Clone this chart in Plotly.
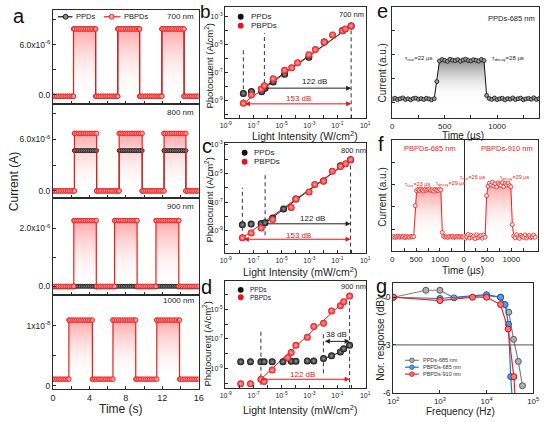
import numpy as np
import plotly.graph_objects as go

W, H = 546, 422
FONT = "Arial, 'Liberation Sans', Helvetica, sans-serif"

# ---------------- data ----------------
# panel a: square-wave photoresponse (edges in s, levels in A)
a_labels = ["700 nm", "800 nm", "900 nm", "1000 nm"]
a_on = [[2.26, 7.12, 11.96], [2.36, 7.27, 12.20], [2.29, 6.77, 11.31], [1.75, 6.59, 11.40]]
a_off = [[4.69, 9.52, 14.40], [4.80, 9.80, 14.60], [4.76, 9.24, 13.82], [4.33, 9.09, 13.90]]
a_pbpd_hi = [7.88e-6, 6.69e-6, 2.26e-6, 1.09e-8]
a_pbpd_lo = [-0.15e-6, 0.0, 0.0, 0.11e-8]
a_ppd_hi = [7.88e-6, 4.69e-6, 0.0, None]
a_ppd_lo = [-0.15e-6, 0.0, -0.02e-6, None]
a_yrange = [[-1.02e-6, 10.15e-6], [-0.84e-6, 10.16e-6], [-0.29e-6, 3.03e-6], [-0.06e-8, 1.51e-8]]
a_ytickvals = [[0, 3e-6, 6e-6, 9e-6], [0, 3e-6, 6e-6, 9e-6], [0, 1e-6, 2e-6, 3e-6], [0, 0.5e-8, 1e-8, 1.5e-8]]
a_yticktext = [["0.0", "", "6.0x10<sup>-6</sup>", ""], ["0.0", "", "6.0x10<sup>-6</sup>", ""],
               ["0.0", "", "2.0x10<sup>-6</sup>", ""], ["0", "", "1x10<sup>-8</sup>", ""]]
a_sample_times = np.round(np.arange(0, 16.0001, 0.2), 3)

# panels b-d: log10(light intensity), log10(photocurrent)
b_x_ppd = [-7.74, -7.16, -6.42, -6.18, -5.60, -4.78, -3.04, -1.94, -0.64, -0.01]
b_y_ppd = [-8.51, -8.37, -8.39, -8.13, -7.68, -7.13, -5.91, -4.82, -4.01, -3.66]
b_x_pbpd = [-7.74, -7.16, -6.46, -6.23, -5.60, -4.78, -4.27, -3.85, -3.04, -2.57, -1.94, -1.34, -0.64, -0.43, -0.01]
b_y_pbpd = [-9.22, -8.62, -8.20, -7.96, -7.45, -6.85, -6.67, -6.31, -5.72, -5.36, -4.82, -4.30, -4.01, -3.87, -3.66]
b_fit_ppd = ([-6.23, -0.01], [-8.05, -3.66])
b_fit_pbpd = ([-7.74, -0.01], [-9.22, -3.66])
b_dash = [(-7.74, -9.22, -5.25), (-6.23, -8.27, -4.18), (-0.01, -10.3, -3.66)]

c_x_ppd = [-7.81, -7.18, -6.46, -6.18, -5.64, -4.85, -3.97, -1.99, -0.78, -0.05]
c_y_ppd = [-8.59, -8.54, -8.50, -8.45, -8.12, -7.48, -6.79, -5.53, -4.45, -4.03]
c_x_pbpd = [-7.81, -7.18, -6.46, -5.64, -4.31, -3.97, -3.03, -2.62, -1.99, -1.36, -0.78, -0.40, -0.05]
c_y_pbpd = [-9.50, -9.16, -8.81, -8.22, -7.37, -6.79, -6.29, -5.76, -5.53, -4.84, -4.50, -4.31, -4.03]
c_fit_ppd = ([-6.18, -0.05], [-8.45, -4.03])
c_fit_pbpd = ([-7.81, -0.05], [-9.50, -4.03])
c_dash = [(-7.81, -9.50, -5.99), (-6.18, -9.32, -4.95), (-0.05, -10.6, -4.03)]

d_x_ppd = [-7.93, -7.23, -6.48, -6.25, -5.67, -4.90, -4.31, -3.97, -3.15, -2.69, -1.99, -1.41, -0.78, -0.54, -0.12]
d_y_ppd = [-8.55, -8.55, -8.55, -8.55, -8.55, -8.55, -8.51, -8.51, -8.49, -8.49, -8.33, -8.15, -7.89, -7.67, -7.44]
d_x_pbpd = [-7.93, -7.23, -6.48, -6.25, -5.67, -4.55, -4.31, -3.97, -3.15, -2.69, -1.99, -1.41, -0.78, -0.54, -0.12]
d_y_pbpd = [-10.04, -10.04, -9.73, -9.89, -9.11, -8.27, -7.93, -7.44, -6.89, -6.17, -5.95, -5.11, -4.77, -4.49, -4.11]
d_fit_ppd = ([-1.99, -1.41, -0.78, -0.54, -0.12], [-8.33, -8.15, -7.89, -7.67, -7.44])
d_fit_pbpd = ([-6.48, -0.12], [-9.73, -4.11])
d_dash = [(-6.48, -10.1, -6.33), (-2.0, -9.33, -6.55), (-0.12, -10.4, -4.11)]

# panel e: PPDs-685 nm transient (time in us, a.u.)
e_t = list(range(0, 1401, 25))
e_y = [0.172, 0.180, 0.168, 0.176, 0.183, 0.170, 0.175, 0.166, 0.178, 0.181, 0.171, 0.177, 0.169, 0.180, 0.174, 0.167, 0.176,
       0.33,
       0.515, 0.528, 0.520, 0.512, 0.530, 0.522, 0.518, 0.527, 0.513, 0.524, 0.531, 0.519, 0.516, 0.526, 0.521, 0.514, 0.529, 0.518,
       0.205,
       0.178, 0.170, 0.182, 0.168, 0.175, 0.180, 0.166, 0.177, 0.172, 0.183, 0.169, 0.176, 0.181, 0.167, 0.174, 0.179, 0.171, 0.184, 0.170, 0.176]
e_base, e_top = 0.174, 0.52

# panel f: PBPDs transients
f_t = list(range(0, 1501, 30))
f_y685 = [0.128, 0.134, 0.125, 0.131, 0.137, 0.126, 0.133, 0.129, 0.136, 0.124, 0.132, 0.130, 0.127, 0.135, 0.129, 0.133,
          0.41,
          0.545, 0.556, 0.548, 0.560, 0.551, 0.543, 0.558, 0.549, 0.554, 0.562, 0.547, 0.553, 0.541, 0.557, 0.550, 0.546, 0.559, 0.552,
          0.17,
          0.135, 0.128, 0.131, 0.126, 0.134, 0.130, 0.137, 0.125, 0.132, 0.129, 0.136, 0.127, 0.133, 0.130, 0.128]
f_y910 = [0.140, 0.118, 0.132, 0.152, 0.121, 0.145, 0.127, 0.138, 0.115, 0.149, 0.124, 0.136, 0.142, 0.119, 0.147, 0.128,
          0.50,
          0.585, 0.612, 0.596, 0.621, 0.588, 0.607, 0.579, 0.615, 0.601, 0.592, 0.618, 0.583, 0.609, 0.597, 0.614, 0.590,
          0.58, 0.24,
          0.138, 0.122, 0.150, 0.129, 0.117, 0.144, 0.133, 0.126, 0.148, 0.120, 0.137, 0.143, 0.124, 0.131, 0.146, 0.127]

# panel g: frequency response
g_f_ppd = [100, 500, 1000, 2000, 10000, 20000, 30000, 38000, 48000, 59000]
g_db_ppd = [0, 0.44, 0.44, -0.04, 0.1, 0.0, -0.94, -2.65, -4.04, -5.57]
g_f_b685 = [100, 1000, 10000, 20000, 25000, 29500, 33000, 35500]
g_db_b685 = [0, -0.08, 0.16, 0.0, -0.46, -1.7, -5.0, -6.3]
g_f_b910 = [100, 1000, 5000, 10000, 20000, 29000, 38500, 41000]
g_db_b910 = [0, -0.21, 0.0, 0.0, -0.46, -2.0, -5.0, -6.3]

# ---------------- helpers ----------------
def dx(l, r): return [l / W, r / W]
def dy(t, b): return [1 - b / H, 1 - t / H]
def px(x): return x / W
def py(y): return 1 - y / H
def xn(n): return 'x' if n == 1 else f'x{n}'
def yn(n): return 'y' if n == 1 else f'y{n}'
def xk(n): return 'xaxis' if n == 1 else f'xaxis{n}'
def yk(n): return 'yaxis' if n == 1 else f'yaxis{n}'

AX = dict(showline=True, linecolor='#2b2b2b', linewidth=1, mirror=True, ticks='inside', ticklen=3,
          tickwidth=1, tickcolor='#2b2b2b', showgrid=False, zeroline=False,
          tickfont=dict(family=FONT, size=8, color='#222'))

fig = go.Figure()
layout = {}
ann = []
shapes = []

def text(x, y, s, size=8, color='#222', angle=0, xanchor='center'):
    ann.append(dict(x=px(x), y=py(y), xref='paper', yref='paper', text=s, showarrow=False,
                    textangle=angle, xanchor=xanchor, yanchor='middle',
                    font=dict(family=FONT, size=size, color=color)))

def square_wave(ons, offs, hi, lo):
    edges = sorted([(v, 1) for v in ons] + [(v, 0) for v in offs])
    xs, ys, state, ei = [], [], False, 0
    for tt in a_sample_times:
        while ei < len(edges) and edges[ei][0] <= tt:
            et, kind = edges[ei]
            if kind:
                xs += [et, et]; ys += [lo, hi]; state = True
            else:
                xs += [et, et]; ys += [hi, lo]; state = False
            ei += 1
        xs.append(float(tt)); ys.append(hi if state else lo)
    return xs, ys

# ---------------- panel a ----------------
a_tops = [8, 103, 199, 297]
a_bots = [103, 199, 297, 393]
for i in range(4):
    n = i + 1
    layout[xk(n)] = dict(AX, domain=dx(48, 197), range=[0, 16], anchor=yn(n),
                         tickvals=list(range(0, 17, 2)),
                         ticktext=(['0', '', '4', '', '8', '', '12', '', '16'] if i == 3 else [''] * 9),
                         tickfont=dict(family=FONT, size=9, color='#222'))
    layout[yk(n)] = dict(AX, domain=dy(a_tops[i], a_bots[i]), range=a_yrange[i], anchor=xn(n),
                         tickvals=a_ytickvals[i], ticktext=a_yticktext[i],
                         tickfont=dict(family=FONT, size=8.5, color='#222'))
    rx, ry = square_wave(a_on[i], a_off[i], a_pbpd_hi[i], a_pbpd_lo[i])
    fig.add_trace(go.Scatter(x=rx, y=ry, xaxis=xn(n), yaxis=yn(n), mode='none', fill='tozeroy',
                             fillgradient=dict(type='vertical', start=a_pbpd_lo[i], stop=a_pbpd_hi[i],
                                               colorscale=[[0, 'rgba(255,255,255,0)'], [1, 'rgba(255,80,80,0.5)']]),
                             showlegend=False, hoverinfo='skip'))
    if a_ppd_hi[i] is not None:
        kx, ky = square_wave(a_on[i], a_off[i], a_ppd_hi[i], a_ppd_lo[i])
        fig.add_trace(go.Scatter(x=kx, y=ky, xaxis=xn(n), yaxis=yn(n), mode='lines+markers',
                                 line=dict(color='#111', width=1),
                                 marker=dict(symbol='circle', size=4, color='#8a8a8a', line=dict(color='#111', width=0.8)),
                                 showlegend=False))
    fig.add_trace(go.Scatter(x=rx, y=ry, xaxis=xn(n), yaxis=yn(n), mode='lines+markers',
                             line=dict(color='#ee1c1c', width=1.2),
                             marker=dict(symbol='circle', size=4.5, color='#ff9d9d', line=dict(color='#ee1c1c', width=0.9)),
                             showlegend=False))
    text(178 if i < 3 else 176, [15, 112, 207, 303][i], a_labels[i], size=8)

# legend a
shapes.append(dict(type='line', xref='paper', yref='paper', x0=px(53), x1=px(68), y0=py(15), y1=py(15), line=dict(color='#111', width=1.2)))
shapes.append(dict(type='circle', xref='paper', yref='paper', x0=px(58.5), x1=px(63.5), y0=py(17.5), y1=py(12.5), fillcolor='#8a8a8a', line=dict(color='#111', width=0.9)))
text(70, 15, 'PPDs', size=7.5, xanchor='left')
shapes.append(dict(type='line', xref='paper', yref='paper', x0=px(100), x1=px(117), y0=py(15), y1=py(15), line=dict(color='#ee1c1c', width=1.2)))
shapes.append(dict(type='circle', xref='paper', yref='paper', x0=px(105.5), x1=px(110.5), y0=py(17.5), y1=py(12.5), fillcolor='#ff9d9d', line=dict(color='#ee1c1c', width=0.9)))
text(119, 15, 'PBPDs', size=7.5, xanchor='left')

# ---------------- panels b, c, d ----------------
def logpanel(n, top, bot, yr, xs_k, ys_k, xs_r, ys_r, fit_k, fit_r, dashes, arrows, dbtexts, wl, legy, legx, legsize):
    layout[xk(n)] = dict(AX, domain=dx(224, 368), type='log', range=[-9.05, 1.05], anchor=yn(n),
                         tickvals=[10.0 ** k for k in range(-9, 2)],
                         ticktext=[f'10<sup>{k}</sup>' if k % 2 else '' for k in range(-9, 2)],
                         tickfont=dict(family=FONT, size=7, color='#222'))
    lo_k = int(np.ceil(yr[0])); hi_k = int(np.floor(yr[1]))
    layout[yk(n)] = dict(AX, domain=dy(top, bot), type='log', range=yr, anchor=xn(n),
                         tickvals=[10.0 ** k for k in range(lo_k, hi_k + 1)],
                         ticktext=[f'10<sup>{k}</sup>' if k % 2 else '' for k in range(lo_k, hi_k + 1)],
                         tickfont=dict(family=FONT, size=7, color='#222'))
    p10 = lambda v: [10.0 ** q for q in v]
    for (xd, y0, y1) in dashes:
        fig.add_trace(go.Scatter(x=p10([xd, xd]), y=p10([y0, y1]), xaxis=xn(n), yaxis=yn(n), mode='lines',
                                 line=dict(color='#333', width=1, dash='4px,3px'), showlegend=False, hoverinfo='skip'))
    fig.add_trace(go.Scatter(x=p10(fit_k[0]), y=p10(fit_k[1]), xaxis=xn(n), yaxis=yn(n), mode='lines',
                             line=dict(color='#111', width=1), showlegend=False))
    fig.add_trace(go.Scatter(x=p10(fit_r[0]), y=p10(fit_r[1]), xaxis=xn(n), yaxis=yn(n), mode='lines',
                             line=dict(color='#e8141a', width=1), showlegend=False))
    fig.add_trace(go.Scatter(x=p10(xs_k), y=p10(ys_k), xaxis=xn(n), yaxis=yn(n), mode='markers',
                             marker=dict(size=7, color='#111', gradient=dict(type='radial', color='#9a9a9a')),
                             showlegend=False))
    fig.add_trace(go.Scatter(x=p10(xs_r), y=p10(ys_r), xaxis=xn(n), yaxis=yn(n), mode='markers',
                             marker=dict(size=7, color='#e8141a', gradient=dict(type='radial', color='#ffb3b3')),
                             showlegend=False))
    for (x0, x1, yy, col, side) in arrows:
        ann.append(dict(x=x1, y=yy, ax=x0, ay=yy, xref=xn(n), yref=yn(n), axref=xn(n), ayref=yn(n),
                        text='', showarrow=True, arrowhead=2, arrowsize=1, arrowwidth=1, arrowcolor=col,
                        arrowside=side))
    for (tx, ty, s, col) in dbtexts:
        text(tx, ty, s, size=8, color=col)
    text(wl[0], wl[1], wl[2], size=7.5)
    r = 3.0
    for j, (col, grad, lab) in enumerate([('#111', '#9a9a9a', 'PPDs'), ('#e8141a', '#ffb3b3', 'PBPDs')]):
        cy = legy[j]
        shapes.append(dict(type='circle', xref='paper', yref='paper', x0=px(legx - r), x1=px(legx + r),
                           y0=py(cy + r), y1=py(cy - r), fillcolor=col, line=dict(width=0)))
        text(legx + 8 if legsize > 7 else legx + 7, cy, lab, size=legsize, xanchor='left')

logpanel(5, 5, 118, [-10.30, -2.29], b_x_ppd, b_y_ppd, b_x_pbpd, b_y_pbpd, b_fit_ppd, b_fit_pbpd, b_dash,
         [(-6.23, -0.01, -8.13, '#222', 'end'), (-7.74, -0.01, -9.26, '#e8141a', 'end+start')],
         [(315, 81, '122 dB', '#222'), (299, 98, '153 dB', '#e8141a')], (353, 13, '700 nm'), (15, 24), 240, 8)
logpanel(6, 143, 255, [-10.59, -2.86], c_x_ppd, c_y_ppd, c_x_pbpd, c_y_pbpd, c_fit_ppd, c_fit_pbpd, c_dash,
         [(-6.18, -0.05, -8.52, '#222', 'end'), (-7.81, -0.05, -9.60, '#e8141a', 'end+start')],
         [(313, 220, '122 dB', '#222'), (299, 236.5, '153 dB', '#e8141a')], (355, 151, '800 nm'), (153, 162), 244, 8)
logpanel(7, 283, 392, [-10.35, -3.09], d_x_ppd, d_y_ppd, d_x_pbpd, d_y_pbpd, d_fit_ppd, d_fit_pbpd, d_dash,
         [(-2.0, -0.12, -7.17, '#222', 'end+start'), (-6.48, -0.12, -9.73, '#e8141a', 'end')],
         [(338, 337, '38 dB', '#222'), (303, 377.5, '122 dB', '#e8141a')], (355, 289, '900 nm'), (292, 299.5), 240, 6.5)

# ---------------- panel e ----------------
layout[xk(8)] = dict(AX, domain=dx(395, 545), range=[0, 1400], anchor=yn(8),
                     tickvals=[0, 250, 500, 750, 1000, 1250], ticktext=['0', '', '500', '', '1000', ''])
layout[yk(8)] = dict(AX, domain=dy(5, 118), range=[0, 1], anchor=xn(8),
                     tickvals=[0.14, 0.36, 0.57, 0.79], ticktext=[''] * 4)
fig.add_trace(go.Scatter(x=e_t, y=e_y, xaxis='x8', yaxis='y8', mode='none', fill='tozeroy',
                         fillgradient=dict(type='vertical', start=e_base, stop=e_top,
                                           colorscale=[[0, 'rgba(255,255,255,0)'], [1, 'rgba(110,110,110,0.75)']]),
                         showlegend=False, hoverinfo='skip'))
fig.add_trace(go.Scatter(x=e_t, y=e_y, xaxis='x8', yaxis='y8', mode='lines+markers',
                         line=dict(color='#111', width=1),
                         marker=dict(size=4, color='#9a9a9a', line=dict(color='#111', width=0.8)), showlegend=False))
text(517, 17, 'PPDs-685 nm', size=7.5)
text(422, 57, 'τ<sub>rise</sub>=22 µs', size=6)
text(513, 57, 'τ<sub>decay</sub>=28 µs', size=6)

# ---------------- panel f ----------------
for n, (l, r, xr, ys, lab, taus) in zip([9, 10], [
        (395, 468, [0, 1500], f_y685, 'PBPDs-685 nm', [(421, 185, 'τ<sub>rise</sub>=23 µs'), (454, 184, 'τ<sub>decay</sub>=29 µs')]),
        (468, 544, [0, 1560], f_y910, 'PBPDs-910 nm', [(477, 178, 'τ<sub>rise</sub>=26 µs'), (520, 178, 'τ<sub>decay</sub>=29 µs')])]):
    layout[xk(n)] = dict(AX, domain=dx(l, r), range=xr, anchor=yn(n),
                         tickvals=[0, 250, 500, 750, 1000, 1250], ticktext=['0', '', '500', '', '1000', ''])
    if n == 9:
        layout[yk(n)] = dict(AX, domain=dy(140, 253), range=[0, 1], anchor=xn(n),
                             tickvals=[0.2, 0.4, 0.6, 0.8], ticktext=[''] * 4)
    else:
        layout[yk(n)] = dict(AX, domain=dy(140, 253), range=[0, 1], anchor=xn(n), side='right', mirror=False,
                             ticks='', showticklabels=False)
    lo, hi = (0.13, 0.55) if n == 9 else (0.13, 0.60)
    fig.add_trace(go.Scatter(x=f_t, y=ys, xaxis=xn(n), yaxis=yn(n), mode='none', fill='tozeroy',
                             fillgradient=dict(type='vertical', start=lo, stop=hi,
                                               colorscale=[[0, 'rgba(255,255,255,0)'], [1, 'rgba(255,80,80,0.5)']]),
                             showlegend=False, hoverinfo='skip'))
    fig.add_trace(go.Scatter(x=f_t, y=ys, xaxis=xn(n), yaxis=yn(n), mode='lines+markers',
                             line=dict(color='#ee2020', width=1),
                             marker=dict(size=4, color='rgba(255,230,230,1)', line=dict(color='#ee2020', width=0.8)),
                             showlegend=False))
    text((l + r) / 2 + (2 if n == 9 else 6), 149, lab, size=7.5, color='#ee2020')
    for (tx, ty, s) in taus:
        text(tx, ty, s, size=5.5, color='#ee2020')

# ---------------- panel g ----------------
layout[xk(11)] = dict(AX, domain=dx(396, 539), type='log', range=[2, 5], anchor=yn(11),
                      tickvals=[1e2, 1e3, 1e4, 1e5],
                      ticktext=['10<sup>2</sup>', '10<sup>3</sup>', '10<sup>4</sup>', '10<sup>5</sup>'],
                      tickfont=dict(family=FONT, size=8, color='#222'))
layout[yk(11)] = dict(AX, domain=dy(285, 397), range=[-6.05, 0.9], anchor=xn(11),
                      tickvals=[0, -3, -6], ticktext=['0', '-3', '-6'],
                      tickfont=dict(family=FONT, size=8.5, color='#222'))
shapes.append(dict(type='line', xref='x11 domain', yref='y11', x0=0, x1=1, y0=-3, y1=-3,
                   line=dict(color='#555', width=1)))
g_series = [(g_f_ppd, g_db_ppd, '#808080', '#b0b0b0', '#555', 'PPDs-685 nm'),
            (g_f_b685, g_db_b685, '#1f6fe0', '#5b9cf2', '#1050b0', 'PBPDs-685 nm'),
            (g_f_b910, g_db_b910, '#ee2222', '#ff7676', '#c01010', 'PBPDs-910 nm')]
for j, (fx, fyv, lc, mc, oc, lab) in enumerate(g_series):
    fig.add_trace(go.Scatter(x=fx, y=fyv, xaxis='x11', yaxis='y11', mode='lines+markers',
                             line=dict(color=lc, width=1.2),
                             marker=dict(size=6, color=mc, line=dict(color=oc, width=1)), showlegend=False))
    ly = [363.5, 370.5, 377.5][j]
    shapes.append(dict(type='line', xref='paper', yref='paper', x0=px(408), x1=px(422), y0=py(ly), y1=py(ly),
                       line=dict(color=lc, width=1.2)))
    shapes.append(dict(type='circle', xref='paper', yref='paper', x0=px(412.7), x1=px(417.3), y0=py(ly + 2.3),
                       y1=py(ly - 2.3), fillcolor=mc, line=dict(color=oc, width=0.8)))
    text(424, ly, lab, size=5.5, color='#333', xanchor='left')

# ---------------- titles & letters ----------------
for (x, y, s) in [(13, 14, 'a'), (204, 10, 'b'), (206, 146, 'c'), (205, 289, 'd'),
                  (385, 9, 'e'), (383, 144, 'f'), (384, 288, 'g')]:
    text(x, y, s, size=19 if s == 'b' else 20, color='#111')
text(9, 182, 'Current (A)', size=12, angle=-90)
text(118, 413, 'Time (s)', size=12)
text(208, 64, 'Photocurent (A/cm<sup>2</sup>)', size=9.5, angle=-90)
text(306, 135, 'Light Intensity (W/cm<sup>2</sup>)', size=10.5)
text(208, 200, 'Photocurent (A/cm<sup>2</sup>)', size=9.5, angle=-90)
text(301, 273, 'Light Intensity (mW/cm<sup>2</sup>)', size=10.5)
text(206, 346, 'Photocurent (A/cm<sup>2</sup>)', size=9.5, angle=-90)
text(301, 413, 'Light Intensity (mW/cm<sup>2</sup>)', size=10.5)
text(385, 72, 'Current (a.u.)', size=10, angle=-90)
text(467, 135, 'Time (µs)', size=10)
text(385, 198, 'Current (a.u.)', size=10, angle=-90)
text(467, 272, 'Time (µs)', size=10)
text(383, 342, 'Nor. response (dB)', size=10, angle=-90)
text(465, 415, 'Frequency (Hz)', size=10)

fig.update_layout(width=W, height=H, autosize=False, margin=dict(l=0, r=0, t=0, b=0),
                  paper_bgcolor='white', plot_bgcolor='white', showlegend=False,
                  annotations=ann, shapes=shapes, font=dict(family=FONT), **layout)
fig.write_html("out.html")
